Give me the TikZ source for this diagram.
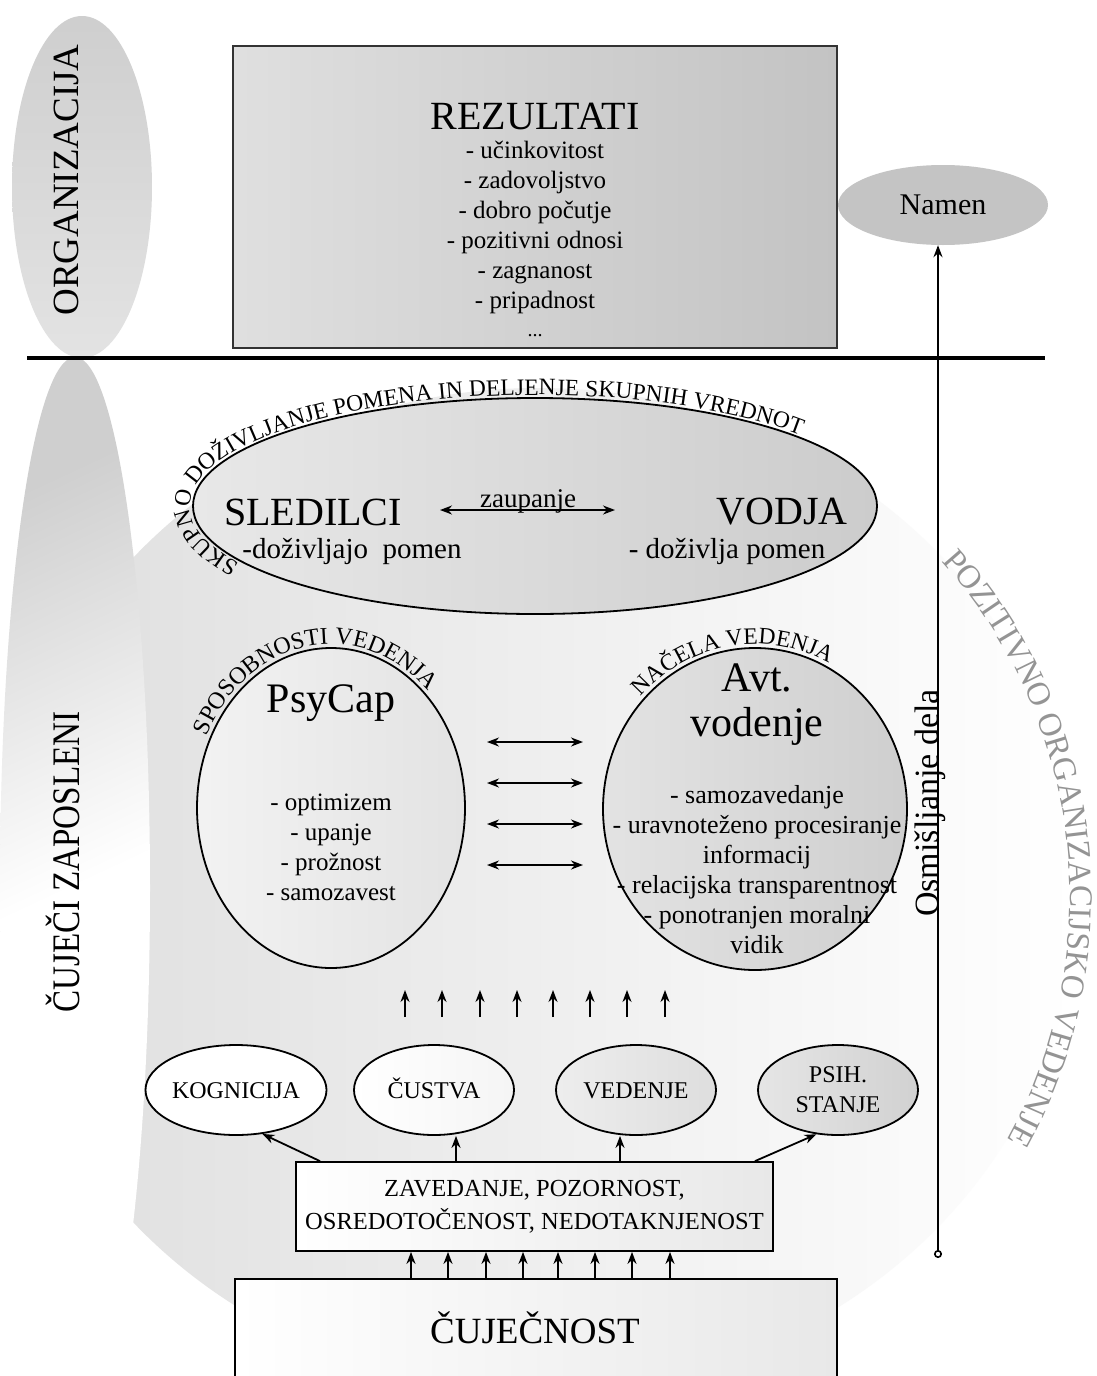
\documentclass[tikz,border=0pt]{standalone}
\usepackage{fontspec}
\setmainfont{Liberation Serif}
\newfontfamily\condfont{Liberation Serif}[FakeStretch=0.85]
\usetikzlibrary{arrows.meta,shapes.geometric,decorations.text}
\newcommand{\fsz}[1]{\fontsize{#1}{#1}\selectfont}
\begin{document}
\begin{tikzpicture}[x=1pt,y=-1pt,
  ell/.style={ellipse, draw, line width=1.8pt, inner sep=0pt},
  box/.style={rectangle, draw, line width=1.8pt, inner sep=0pt},
  arr/.style={line width=1.8pt, -{Stealth[length=12pt,width=9pt]}},
  darr/.style={line width=1.8pt, {Stealth[length=12pt,width=9pt]}-{Stealth[length=12pt,width=9pt]}},
  small/.style={ell, minimum width=160pt, minimum height=90pt, font=\fsz{24}, text height=16pt, text depth=0pt},
  lbl/.style={inner sep=0pt}]
\useasboundingbox (0,0) rectangle (1097,1376);
\clip (0,0) rectangle (1097,1376);
\fill[white] (0,0) rectangle (1097,1376);

% background shapes
\shade[left color=gray!26, right color=white] (538,890) ellipse [x radius=540, y radius=502];
\shade[top color=gray!38, bottom color=white, middle color=white, shading angle=25] (75,888) ellipse [x radius=75, y radius=531];
\shade[top color=gray!38, bottom color=gray!22] (82,187) ellipse [x radius=70, y radius=171];
\draw[line width=4pt] (27,358) -- (1045,358);

% POB text
\path[decorate, decoration={text along path, text={|\color{black!42}\fsz{33}|POZITIVNO ORGANIZACIJSKO VEDENJE}}]
  (568,897) ++(-42:502) arc[start angle=-42, end angle=55, radius=502];

% left labels
\node[lbl, rotate=90, font=\fsz{37}] (orgt) at (66,180) {ORGANIZACIJA};
\node[lbl, rotate=90, font=\condfont\fsz{39}] (cujz) at (63,862) {ČUJEČI ZAPOSLENI};

% REZULTATI
\node[box, draw=black!80, line width=2.5pt, left color=gray!25, right color=gray!47, minimum width=604pt, minimum height=302pt] (rez) at (535,197) {};
\node[font=\fsz{40}] (rezt) at (535,116) {REZULTATI};
\node[font=\fontsize{25}{30}\selectfont, align=center] (rezl) at (535,227) {- učinkovitost\\- zadovoljstvo\\- dobro počutje\\- pozitivni odnosi\\- zagnanost\\- pripadnost};
\node[font=\fsz{20}] (rezd) at (535,336) {...};

% Namen
\node[ellipse, fill=gray!46, minimum width=210pt, minimum height=80pt, inner sep=0pt, font=\fsz{30}] (nam) at (943,205) {Namen};
\coordinate (osm) at (938,1258);
\draw[line width=1.6pt, {Circle[open,length=8pt,width=8pt]}-{Stealth[length=12pt,width=9pt]}] (osm) -- (osm |- nam.south);
\node[lbl, rotate=90, anchor=base, font=\fsz{34}] (osmt) at (938,803) {Osmišljanje dela};

% SLEDILCI / VODJA
\node[ell, left color=gray!18, right color=gray!40, minimum width=684pt, minimum height=216pt] (sled) at (535,506) {};
\path[decorate, decoration={text along path, text={|\fsz{23.5}|SKUPNO DOŽIVLJANJE POMENA IN DELJENJE SKUPNIH VREDNOT}}]
  (535,506) ++(-211:345 and 111) arc[start angle=-211, end angle=-5, x radius=345, y radius=111];
\node[font=\fsz{40}] (sl) at (313,512) {SLEDILCI};
\node[font=\fsz{40}] (vo) at (782,512) {VODJA};
\node[font=\fsz{29}] (sld) at (352,551) {-doživljajo\ \ pomen};
\node[font=\fsz{29}] (vod) at (727,551) {- doživlja pomen};
\node[font=\fsz{27}, anchor=base, inner sep=0pt] (zau) at (528,507) {zaupanje};
\coordinate (za1) at (440,510);
\coordinate (za2) at (615,510);
\draw[darr] (za1) -- (za2);

% PsyCap
\node[ell, left color=gray!10, right color=gray!22, minimum width=268pt, minimum height=320pt] (psy) at (331,808) {};
\path[decorate, decoration={text along path, text={|\fsz{24}|SPOSOBNOSTI VEDENJA}}]
  (331,808) ++(-154:138 and 164) arc[start angle=-154, end angle=-5, x radius=138, y radius=164];
\node[font=\fsz{42}] (psyt) at (331,703) {PsyCap};
\node[font=\fontsize{25}{30}\selectfont, align=center] (psyl) at (331,847) {- optimizem\\- upanje\\- prožnost\\- samozavest};

% Avt. vodenje
\node[ell, left color=gray!22, right color=gray!38, minimum width=304pt, minimum height=322pt] (avt) at (755,809) {};
\path[decorate, decoration={text along path, text={|\fsz{23.5}|NAČELA VEDENJA}}]
  (755,809) ++(-137:156 and 165) arc[start angle=-137, end angle=-5, x radius=156, y radius=165];
\node[font=\fontsize{42}{45}\selectfont, align=center] (avtt) at (757,705) {Avt.\\vodenje};
\node[font=\fontsize{26}{30}\selectfont, align=center] (avtl) at (757,870) {- samozavedanje\\- uravnoteženo procesiranje\\informacij\\- relacijska transparentnost\\- ponotranjen moralni\\vidik};

% double arrows
\foreach \i/\y in {1/742,2/783,3/824,4/865}{
  \coordinate (dl\i) at (487,\y);
  \coordinate (dr\i) at (583,\y);
  \draw[darr] (dl\i) -- (dr\i);
}

% up arrows row
\foreach \i/\x in {1/405,2/442,3/480,4/517,5/553,6/590,7/627,8/665}{
  \coordinate (ub\i) at (\x,1017);
  \coordinate (ut\i) at (\x,990);
  \draw[arr] (ub\i) -- (ut\i);
}

% small ellipses
\node[small, fill=white, minimum width=168pt] (kog) at (236,1090) {KOGNICIJA};
\node[small, left color=white, right color=gray!8] (cus) at (434,1090) {ČUSTVA};
\node[small, left color=gray!14, right color=gray!26] (ved) at (636,1090) {VEDENJE};
\node[ell, left color=gray!20, right color=gray!36, minimum width=160pt, minimum height=90pt, font=\fontsize{24}{30}\selectfont, align=center] (psih) at (838,1090) {PSIH.\\STANJE};

% ZAVEDANJE box
\node[box, left color=white, right color=gray!18, minimum width=477pt, minimum height=89pt, align=center, font=\fontsize{24.5}{33}\selectfont] (zav) at (534.5,1206.5) {ZAVEDANJE, POZORNOST,\\OSREDOTOČENOST, NEDOTAKNJENOST};
\draw[arr] (zav.north -| 320,0) -- (kog.-59);
\draw[arr] (zav.north -| 456,0) -- (cus.south -| 456,0);
\draw[arr] (zav.north -| 620,0) -- (ved.south -| 620,0);
\draw[arr] (zav.north -| 755,0) -- (psih.-116);

% CUJECNOST box
\node[box, line width=2pt, left color=white, right color=gray!18, minimum width=602pt, minimum height=140pt, anchor=north west] (cuj) at (234,1278) {};
\node[font=\fsz{37}] (cujt) at (535,1328) {ČUJEČNOST};
\foreach \x in {411,448,486,523,558,595,632,670}{
  \draw[arr] (cuj.north -| \x,0) -- (zav.south -| \x,0);
}
\end{tikzpicture}
\end{document}
